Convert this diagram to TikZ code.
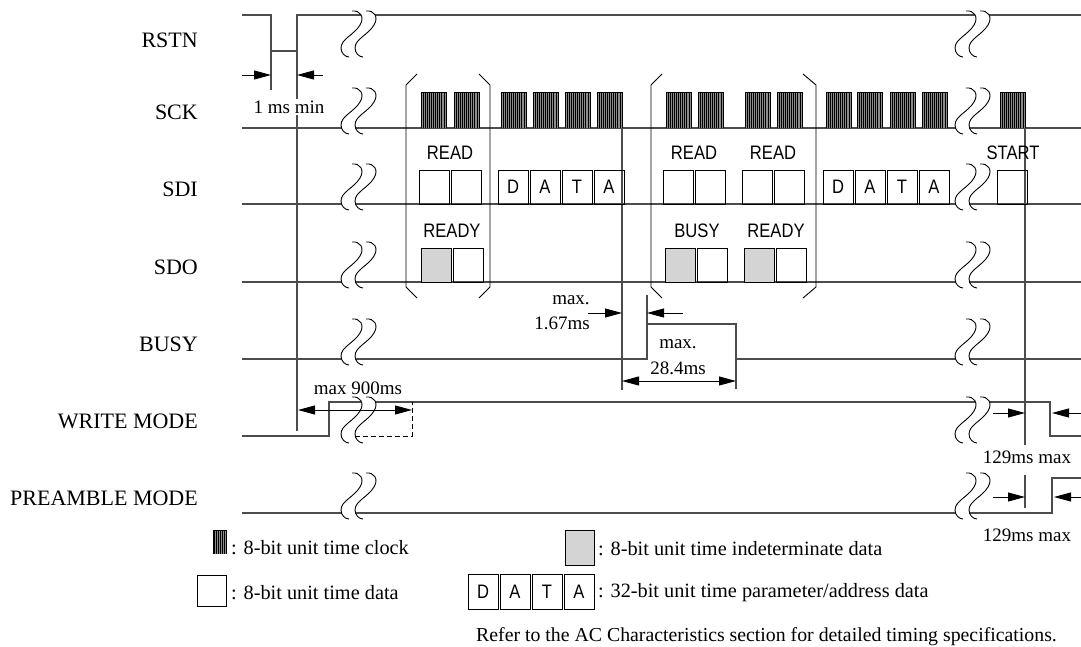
\documentclass[tikz,border=0pt]{standalone}
\usepackage{fontspec}
\setmainfont{Liberation Serif}
\newfontfamily\boxfont[FakeStretch=0.85]{Liberation Sans}
\usetikzlibrary{arrows.meta}
\begin{document}
\begin{tikzpicture}[x=1pt,y=-1pt,
  sig/.style={line width=1.1pt, draw=black!70},
  lbl/.style={font=\fontsize{22}{24}\selectfont, anchor=east, inner sep=0pt},
  dim/.style={font=\fontsize{19}{21}\selectfont, inner sep=0pt},
  leg/.style={font=\fontsize{20.3}{22}\selectfont, inner sep=0pt, anchor=west},
  bx/.style={draw, line width=0.9pt, minimum width=30pt, minimum height=34pt, inner sep=0pt, font=\boxfont\fontsize{19.5}{20}\selectfont},
  gbx/.style={bx, fill=black!17},
  tag/.style={font=\boxfont\fontsize{19.5}{20}\selectfont, inner sep=0pt},
  arr/.style={-{Triangle[length=17pt,width=9pt]}, line width=0.9pt},
  darr/.style={{Triangle[length=17pt,width=9pt]}-{Triangle[length=17pt,width=9pt]}, line width=0.9pt},
  brk/.pic={
    \fill[white] (4,-40) .. controls (12,-41) and (17,-34) .. (12,-26) .. controls (6,-16) and (-7,-12) .. (-7,-3) .. controls (-7,2) and (-3,6) .. (1,6)
      -- (15,6) .. controls (11,6) and (7,2) .. (7,-3) .. controls (7,-12) and (20,-16) .. (26,-26) .. controls (31,-34) and (26,-41) .. (18,-40) -- cycle;
    \draw[line width=0.9pt] (4,-40) .. controls (12,-41) and (17,-34) .. (12,-26) .. controls (6,-16) and (-7,-12) .. (-7,-3) .. controls (-7,2) and (-3,6) .. (1,6);
    \draw[line width=0.9pt] (18,-40) .. controls (26,-41) and (31,-34) .. (26,-26) .. controls (20,-16) and (7,-12) .. (7,-3) .. controls (7,2) and (11,6) .. (15,6);
  },
  clk/.pic={
    \fill[black!45] (0,0) rectangle (25,-36);
    \foreach \i in {0,...,12} \draw[line width=0.8pt] (\i*25/12,0) -- ++(0,-36);
    \draw[line width=0.8pt] (0,-36) -- (25,-36);
  },
  clksmall/.pic={
    \fill[black!45] (0,0) rectangle (13,-24);
    \foreach \i in {0,...,7} \draw[line width=0.8pt] (\i*13/7,0) -- ++(0,-24);
    \draw[line width=0.8pt] (0,-24) -- (13,-24);
  }
]
\useasboundingbox (0,0) rectangle (1081,647);

% ---- signal labels
\node[lbl] (lrstn) at (198,40) {RSTN};
\node[lbl] (lsck) at (198,112) {SCK};
\node[lbl] (lsdi) at (198,189) {SDI};
\node[lbl] (lsdo) at (198,267) {SDO};
\node[lbl] (lbusy) at (198,344) {BUSY};
\node[lbl] (lwm) at (198,421) {WRITE MODE};
\node[lbl] (lpm) at (198,498) {PREAMBLE MODE};

% ---- signal lines
\draw[sig] (242,15) -- (271,15) -- (271,51) -- (297,51) -- (297,15) -- (1081,15);
\draw[sig] (242,128) -- (1081,128);
\draw[sig] (242,204) -- (1081,204);
\draw[sig] (242,282) -- (1081,282);
\draw[sig] (242,359) -- (647,359) -- (647,324) -- (736,324) -- (736,359) -- (1081,359);
\draw[sig] (242,436) -- (329,436) -- (329,402) -- (1050,402) -- (1050,436) -- (1081,436);
\draw[sig] (242,513) -- (1052,513) -- (1052,478) -- (1081,478);
\draw[dashed, dash pattern=on 5pt off 3pt, line width=0.9pt] (355,436) -- (412,436) -- (412,402);

% ---- guide verticals
\draw[sig] (271,51) -- (271,90);
\draw[sig] (297,51) -- (297,431);
\draw[sig] (622,128) -- (622,390);
\draw[sig] (647,295) -- (647,324);
\draw[sig] (736,359) -- (736,389);
\draw[sig] (1025,128) -- (1025,445);
\draw[sig] (1025,475) -- (1025,508);

% ---- clocks
\foreach \x in {421,454,501,533,565,597,666,698,745,777,826,857,890,922,1000}
  \pic at (\x,128) {clk};

% ---- SDI boxes
\node[bx] (r1a) at (434,187) {};
\node[bx] (r1b) at (466,187) {};
\node[bx] (d1a) at (513,187) {D};
\node[bx] (d1b) at (545,187) {A};
\node[bx] (d1c) at (577,187) {T};
\node[bx] (d1d) at (609,187) {A};
\node[bx] (r2a) at (678,187) {};
\node[bx] (r2b) at (710,187) {};
\node[bx] (r3a) at (757,187) {};
\node[bx] (r3b) at (789,187) {};
\node[bx] (d2a) at (838,187) {D};
\node[bx] (d2b) at (870,187) {A};
\node[bx] (d2c) at (902,187) {T};
\node[bx] (d2d) at (934,187) {A};
\node[bx] (st) at (1012.5,187) {};

% ---- SDO boxes
\node[gbx] (o1a) at (436,265) {};
\node[bx] (o1b) at (468,265) {};
\node[gbx] (o2a) at (680.5,265) {};
\node[bx] (o2b) at (712,265) {};
\node[gbx] (o3a) at (759.5,265) {};
\node[bx] (o3b) at (791,265) {};

% ---- tags
\node[tag] (t1) at (450,153) {READ};
\node[tag] (t2) at (452,231) {READY};
\node[tag] (t3) at (694,153) {READ};
\node[tag] (t4) at (773,153) {READ};
\node[tag] (t5) at (697,231) {BUSY};
\node[tag] (t6) at (776,231) {READY};
\node[tag] (t7) at (1013,153) {START};

% ---- brackets
\draw[line width=0.9pt] (417,74) -- (406,85) -- (406,287) -- (417,298);
\draw[line width=0.9pt] (479,74) -- (490,85) -- (490,287) -- (479,298);
\draw[line width=0.9pt] (662,74) -- (651,85) -- (651,287) -- (662,298);
\draw[line width=0.9pt] (803,74) -- (816,85) -- (816,287) -- (803,298);

% ---- breaks
\foreach \y in {51,128,204,282,359,437,513} {
  \pic at (348,\y) {brk};
  \pic at (962,\y) {brk};
}

% ---- dimensions
\coordinate (a1s) at (242,75); \coordinate (a1e) at (271,75);
\coordinate (a2s) at (323,75); \coordinate (a2e) at (297,75);
\draw[arr] (a1s) -- (a1e);
\draw[arr] (a2s) -- (a2e);
\node[dim, fill=white, inner sep=2pt] (ms1) at (289,107) {1 ms min};

\coordinate (w1) at (298,410); \coordinate (w2) at (412,410);
\draw[darr] (w1) -- (w2);
\node[dim] (m900) at (358,388) {max 900ms};

\coordinate (b1s) at (588,313); \coordinate (b1e) at (622,313);
\coordinate (b2s) at (683,313); \coordinate (b2e) at (647,313);
\draw[arr] (b1s) -- (b1e);
\draw[arr] (b2s) -- (b2e);
\node[dim] (mx1) at (571,300) {max.};
\node[dim] (mx1v) at (562,323) {1.67ms};

\coordinate (c1) at (622,381); \coordinate (c2) at (736,381);
\draw[darr] (c1) -- (c2);
\node[dim] (mx2) at (678,344) {max.};
\node[dim] (mx2v) at (678,368) {28.4ms};

\coordinate (e1s) at (993,413); \coordinate (e1e) at (1025,413);
\coordinate (e2s) at (1081,413); \coordinate (e2e) at (1052,413);
\draw[arr] (e1s) -- (e1e);
\draw[arr] (e2s) -- (e2e);
\node[dim] (w129) at (1027,457) {129ms max};

\coordinate (f1s) at (993,497); \coordinate (f1e) at (1025,497);
\coordinate (f2s) at (1081,497); \coordinate (f2e) at (1054,497);
\draw[arr] (f1s) -- (f1e);
\draw[arr] (f2s) -- (f2e);
\node[dim] (p129) at (1027,535) {129ms max};

% ---- legend
\pic at (213,554) {clksmall};
\node[bx, minimum width=29pt, minimum height=31pt] (lgbox) at (212,591) {};
\node[leg] (lg1) at (231,548) {: 8-bit unit time clock};
\node[leg] (lg2) at (231,593) {: 8-bit unit time data};
\node[gbx, minimum width=29pt, minimum height=35pt] (lggrey) at (579.5,547.5) {};
\node[leg] (lg3) at (598,549) {: 8-bit unit time indeterminate data};
\node[bx, minimum height=35pt] (lda) at (483,591.5) {D};
\node[bx, minimum height=35pt] (ldb) at (515,591.5) {A};
\node[bx, minimum height=35pt] (ldc) at (547,591.5) {T};
\node[bx, minimum height=35pt] (ldd) at (579,591.5) {A};
\node[leg] (lg4) at (598,593) {: 32-bit unit time parameter/address data};
\node[leg, font=\fontsize{19.8}{21}\selectfont] (note) at (476,637) {Refer to the AC Characteristics section for detailed timing specifications.};
\end{tikzpicture}
\end{document}
